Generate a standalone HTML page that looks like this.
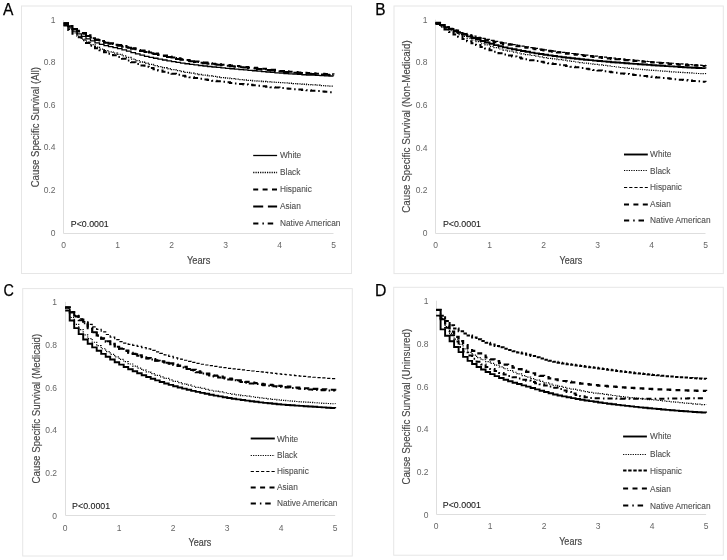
<!DOCTYPE html>
<html><head><meta charset="utf-8"><style>
html,body{margin:0;padding:0;background:#fff;width:727px;height:560px;overflow:hidden}
svg{display:block;will-change:transform}
text{font-family:"Liberation Sans", sans-serif}
</style></head><body>
<svg width="727" height="560" viewBox="0 0 727 560">
<rect width="727" height="560" fill="#fff"/>
<rect x="21.5" y="6" width="330" height="267.5" fill="none" stroke="#e6e6e6" stroke-width="1"/>
<text x="3" y="15.3" font-size="16.5" fill="#000" stroke="#000" stroke-width="0.25" textLength="10.4" lengthAdjust="spacingAndGlyphs">A</text>
<line x1="63.5" y1="20.1" x2="63.5" y2="233.5" stroke="#dedede" stroke-width="1"/>
<line x1="63.5" y1="233.5" x2="333.5" y2="233.5" stroke="#dedede" stroke-width="1"/>
<text x="55.5" y="235.53" font-size="8.5" fill="#666666" text-anchor="end">0</text>
<text x="55.5" y="192.93" font-size="8.5" fill="#666666" text-anchor="end">0.2</text>
<text x="55.5" y="150.33" font-size="8.5" fill="#666666" text-anchor="end">0.4</text>
<text x="55.5" y="107.73" font-size="8.5" fill="#666666" text-anchor="end">0.6</text>
<text x="55.5" y="65.13" font-size="8.5" fill="#666666" text-anchor="end">0.8</text>
<text x="55.5" y="22.53" font-size="8.5" fill="#666666" text-anchor="end">1</text>
<text x="63.5" y="247.93" font-size="8.5" fill="#666666" text-anchor="middle">0</text>
<text x="117.5" y="247.93" font-size="8.5" fill="#666666" text-anchor="middle">1</text>
<text x="171.5" y="247.93" font-size="8.5" fill="#666666" text-anchor="middle">2</text>
<text x="225.5" y="247.93" font-size="8.5" fill="#666666" text-anchor="middle">3</text>
<text x="279.5" y="247.93" font-size="8.5" fill="#666666" text-anchor="middle">4</text>
<text x="333.5" y="247.93" font-size="8.5" fill="#666666" text-anchor="middle">5</text>
<text x="186.9" y="263.5" font-size="10.7" fill="#474747" stroke="#4a4a4a" stroke-width="0.2" textLength="23.4" lengthAdjust="spacingAndGlyphs">Years</text>
<text transform="translate(38.9 187.3) rotate(-90)" x="0" y="0" font-size="10.5" fill="#474747" stroke="#4a4a4a" stroke-width="0.15" textLength="120.3" lengthAdjust="spacingAndGlyphs">Cause Specific Survival (All)</text>
<text x="70.8" y="226.8" font-size="9.5" fill="#1a1a1a" stroke="#1a1a1a" stroke-width="0.1" textLength="37.9" lengthAdjust="spacingAndGlyphs">P&lt;0.0001</text>
<line x1="253.2" y1="155.5" x2="277.1" y2="155.5" stroke="#000" stroke-width="1.3"/>
<text x="280" y="158.16" font-size="8.3" fill="#474747" stroke="#666" stroke-width="0.1">White</text>
<line x1="253.2" y1="172.5" x2="277.1" y2="172.5" stroke="#000" stroke-width="1.3" stroke-dasharray="1.2 1.1"/>
<text x="280" y="175.36" font-size="8.3" fill="#474747" stroke="#666" stroke-width="0.1">Black</text>
<line x1="253.2" y1="189.5" x2="277.1" y2="189.5" stroke="#000" stroke-width="2" stroke-dasharray="5 4.4"/>
<text x="280" y="192.26" font-size="8.3" fill="#474747" stroke="#666" stroke-width="0.1">Hispanic</text>
<line x1="253.2" y1="206.5" x2="277.1" y2="206.5" stroke="#000" stroke-width="2" stroke-dasharray="10 4.7"/>
<text x="280" y="209.16" font-size="8.3" fill="#474747" stroke="#666" stroke-width="0.1">Asian</text>
<line x1="253.2" y1="223.5" x2="258.4" y2="223.5" stroke="#000" stroke-width="2"/>
<line x1="262.4" y1="223.5" x2="263.9" y2="223.5" stroke="#000" stroke-width="2"/>
<line x1="267.7" y1="223.5" x2="273.2" y2="223.5" stroke="#000" stroke-width="2"/>
<text x="280" y="225.96" font-size="8.3" fill="#474747" stroke="#666" stroke-width="0.1">Native American</text>
<path d="M63.5 25.43H68V29.25H72.5V32.83H77V36.07H81.5V39.08H86V41.99H90.5V44.68H95V47.08H99.5V49.09H104V50.65H108.5V51.92H113V53.1H117.5V54.39H122V55.89H126.5V57.49H131V59.1H135.5V60.64H140V62.01H144.5V63.24H149V64.42H153.5V65.57H158V66.67H162.5V67.74H167V68.75H171.5V69.72H176V70.64H180.5V71.51H185V72.32H189.5V73.08H194V73.79H198.5V74.48H203V75.15H207.5V75.79H212V76.4H216.5V77H221V77.56H225.5V78.1H230V78.62H234.5V79.11H239V79.58H243.5V80.02H248V80.43H252.5V80.82H257V81.18H261.5V81.5H266V81.81H270.5V82.1H275V82.39H279.5V82.68H284V82.97H288.5V83.27H293V83.59H297.5V83.91H302V84.24H306.5V84.56H311V84.89H315.5V85.22H320V85.55H324.5V85.88H329V86.22H333.5V86.56" fill="none" stroke="#000" stroke-width="1.3" stroke-dasharray="1.2 1.1"/>
<path d="M63.5 25.43H68V29.7H72.5V33.66H77V37.14H81.5V40.23H86V43.11H90.5V45.76H95V48.17H99.5V50.33H104V52.2H108.5V53.83H113V55.36H117.5V56.95H122V58.68H126.5V60.47H131V62.25H135.5V63.93H140V65.41H144.5V66.75H149V68.04H153.5V69.29H158V70.49H162.5V71.64H167V72.73H171.5V73.77H176V74.76H180.5V75.68H185V76.54H189.5V77.34H194V78.08H198.5V78.78H203V79.45H207.5V80.08H212V80.69H216.5V81.27H221V81.82H225.5V82.36H230V82.88H234.5V83.39H239V83.89H243.5V84.38H248V84.87H252.5V85.35H257V85.82H261.5V86.28H266V86.72H270.5V87.15H275V87.57H279.5V87.98H284V88.38H288.5V88.79H293V89.19H297.5V89.58H302V89.97H306.5V90.35H311V90.73H315.5V91.1H320V91.46H324.5V91.82H329V92.17H333.5V92.52" fill="none" stroke="#000" stroke-width="2" stroke-dasharray="5.2 3.2 1.5 3.1"/>
<path d="M63.5 23.29H68V26.18H72.5V28.9H77V31.39H81.5V33.75H86V36.05H90.5V38.21H95V40.11H99.5V41.68H104V42.87H108.5V43.83H113V44.72H117.5V45.66H122V46.7H126.5V47.78H131V48.87H135.5V49.96H140V51.05H144.5V52.11H149V53.13H153.5V54.12H158V55.12H162.5V56.12H167V57.11H171.5V58.07H176V58.99H180.5V59.85H185V60.65H189.5V61.37H194V62.02H198.5V62.63H203V63.22H207.5V63.77H212V64.3H216.5V64.8H221V65.29H225.5V65.76H230V66.22H234.5V66.68H239V67.13H243.5V67.58H248V68.03H252.5V68.5H257V68.97H261.5V69.46H266V69.98H270.5V70.51H275V71.03H279.5V71.53H284V71.99H288.5V72.4H293V72.75H297.5V73.08H302V73.4H306.5V73.71H311V74H315.5V74.27H320V74.51H324.5V74.72H329V74.9H333.5V75.05" fill="none" stroke="#000" stroke-width="2" stroke-dasharray="10 4.7"/>
<path d="M63.5 23.29H68V25.9H72.5V28.4H77V30.75H81.5V33.05H86V35.34H90.5V37.52H95V39.46H99.5V41.04H104V42.23H108.5V43.19H113V44.08H117.5V45.02H122V46.06H126.5V47.14H131V48.23H135.5V49.32H140V50.41H144.5V51.47H149V52.49H153.5V53.48H158V54.48H162.5V55.49H167V56.47H171.5V57.43H176V58.35H180.5V59.21H185V60.01H189.5V60.73H194V61.38H198.5V62H203V62.58H207.5V63.13H212V63.66H216.5V64.16H221V64.65H225.5V65.12H230V65.58H234.5V66.04H239V66.49H243.5V66.94H248V67.39H252.5V67.86H257V68.33H261.5V68.82H266V69.34H270.5V69.87H275V70.39H279.5V70.89H284V71.35H288.5V71.76H293V72.11H297.5V72.44H302V72.77H306.5V73.07H311V73.36H315.5V73.63H320V73.87H324.5V74.08H329V74.27H333.5V74.41" fill="none" stroke="#000" stroke-width="2" stroke-dasharray="5 4.4"/>
<path d="M63.5 24.36H68V27.88H72.5V31.12H77V33.94H81.5V36.46H86V38.81H90.5V40.96H95V42.86H99.5V44.44H104V45.68H108.5V46.68H113V47.61H117.5V48.64H122V49.86H126.5V51.2H131V52.58H135.5V53.93H140V55.2H144.5V56.31H149V57.3H153.5V58.24H158V59.15H162.5V60.02H167V60.85H171.5V61.64H176V62.38H180.5V63.08H185V63.74H189.5V64.36H194V64.93H198.5V65.48H203V66H207.5V66.5H212V66.98H216.5V67.44H221V67.88H225.5V68.31H230V68.73H234.5V69.14H239V69.55H243.5V69.95H248V70.35H252.5V70.75H257V71.15H261.5V71.57H266V71.99H270.5V72.41H275V72.82H279.5V73.22H284V73.58H288.5V73.91H293V74.19H297.5V74.47H302V74.73H306.5V74.99H311V75.22H315.5V75.44H320V75.65H324.5V75.83H329V75.99H333.5V76.12" fill="none" stroke="#000" stroke-width="1.3"/>
<rect x="394" y="6" width="329.3" height="267.6" fill="none" stroke="#e6e6e6" stroke-width="1"/>
<text x="375.2" y="14.7" font-size="16.5" fill="#000" stroke="#000" stroke-width="0.25" textLength="10.3" lengthAdjust="spacingAndGlyphs">B</text>
<line x1="435.5" y1="19.7" x2="435.5" y2="233.5" stroke="#dedede" stroke-width="1"/>
<line x1="435.5" y1="233.5" x2="705.5" y2="233.5" stroke="#dedede" stroke-width="1"/>
<text x="427.5" y="236.13" font-size="8.5" fill="#666666" text-anchor="end">0</text>
<text x="427.5" y="193.43" font-size="8.5" fill="#666666" text-anchor="end">0.2</text>
<text x="427.5" y="150.73" font-size="8.5" fill="#666666" text-anchor="end">0.4</text>
<text x="427.5" y="108.03" font-size="8.5" fill="#666666" text-anchor="end">0.6</text>
<text x="427.5" y="65.33" font-size="8.5" fill="#666666" text-anchor="end">0.8</text>
<text x="427.5" y="22.63" font-size="8.5" fill="#666666" text-anchor="end">1</text>
<text x="435.5" y="248.13" font-size="8.5" fill="#666666" text-anchor="middle">0</text>
<text x="489.5" y="248.13" font-size="8.5" fill="#666666" text-anchor="middle">1</text>
<text x="543.5" y="248.13" font-size="8.5" fill="#666666" text-anchor="middle">2</text>
<text x="597.5" y="248.13" font-size="8.5" fill="#666666" text-anchor="middle">3</text>
<text x="651.5" y="248.13" font-size="8.5" fill="#666666" text-anchor="middle">4</text>
<text x="705.5" y="248.13" font-size="8.5" fill="#666666" text-anchor="middle">5</text>
<text x="559.6" y="263.7" font-size="10.7" fill="#474747" stroke="#4a4a4a" stroke-width="0.2" textLength="22.6" lengthAdjust="spacingAndGlyphs">Years</text>
<text transform="translate(409.5 212.8) rotate(-90)" x="0" y="0" font-size="10.5" fill="#474747" stroke="#4a4a4a" stroke-width="0.15" textLength="172.5" lengthAdjust="spacingAndGlyphs">Cause Specific Survival (Non-Medicaid)</text>
<text x="442.9" y="227" font-size="9.5" fill="#1a1a1a" stroke="#1a1a1a" stroke-width="0.1" textLength="38.1" lengthAdjust="spacingAndGlyphs">P&lt;0.0001</text>
<line x1="624" y1="154.5" x2="647.8" y2="154.5" stroke="#000" stroke-width="1.9"/>
<text x="650.1" y="157.16" font-size="8.3" fill="#474747" stroke="#666" stroke-width="0.1">White</text>
<line x1="624" y1="170.5" x2="647.8" y2="170.5" stroke="#000" stroke-width="1.2" stroke-dasharray="1.2 1.2"/>
<text x="650.1" y="173.76" font-size="8.3" fill="#474747" stroke="#666" stroke-width="0.1">Black</text>
<line x1="624" y1="187.5" x2="647.8" y2="187.5" stroke="#000" stroke-width="1.2" stroke-dasharray="3.2 2"/>
<text x="650.1" y="190.36" font-size="8.3" fill="#474747" stroke="#666" stroke-width="0.1">Hispanic</text>
<line x1="624" y1="204.5" x2="647.8" y2="204.5" stroke="#000" stroke-width="2.2" stroke-dasharray="5 4.4"/>
<text x="650.1" y="207.06" font-size="8.3" fill="#474747" stroke="#666" stroke-width="0.1">Asian</text>
<line x1="624" y1="220.5" x2="629.2" y2="220.5" stroke="#000" stroke-width="2"/>
<line x1="633.2" y1="220.5" x2="634.7" y2="220.5" stroke="#000" stroke-width="2"/>
<line x1="638.5" y1="220.5" x2="644" y2="220.5" stroke="#000" stroke-width="2"/>
<text x="650.1" y="223.36" font-size="8.3" fill="#474747" stroke="#666" stroke-width="0.1">Native American</text>
<path d="M435.5 23.97H440V26.24H444.5V28.43H449V30.55H453.5V32.6H458V34.57H462.5V36.46H467V38.27H471.5V40H476V41.65H480.5V43.26H485V44.82H489.5V46.31H494V47.71H498.5V49H503V50.16H507.5V51.17H512V52.12H516.5V53.02H521V53.88H525.5V54.7H530V55.48H534.5V56.22H539V56.94H543.5V57.63H548V58.29H552.5V58.94H557V59.57H561.5V60.19H566V60.79H570.5V61.4H575V62H579.5V62.59H584V63.18H588.5V63.76H593V64.33H597.5V64.89H602V65.43H606.5V65.96H611V66.48H615.5V66.99H620V67.48H624.5V67.95H629V68.4H633.5V68.84H638V69.26H642.5V69.66H647V70.04H651.5V70.41H656V70.76H660.5V71.11H665V71.45H669.5V71.78H674V72.1H678.5V72.4H683V72.69H687.5V72.97H692V73.23H696.5V73.48H701V73.71H705.5V73.93" fill="none" stroke="#000" stroke-width="1.2" stroke-dasharray="1.2 1.2"/>
<path d="M435.5 23.97H440V26.76H444.5V29.45H449V32.03H453.5V34.51H458V36.87H462.5V39.12H467V41.25H471.5V43.25H476V45.12H480.5V46.91H485V48.62H489.5V50.24H494V51.75H498.5V53.13H503V54.38H507.5V55.49H512V56.53H516.5V57.51H521V58.45H525.5V59.34H530V60.19H534.5V61H539V61.79H543.5V62.54H548V63.27H552.5V63.98H557V64.67H561.5V65.35H566V66.02H570.5V66.69H575V67.36H579.5V68.02H584V68.67H588.5V69.31H593V69.93H597.5V70.54H602V71.13H606.5V71.72H611V72.29H615.5V72.85H620V73.4H624.5V73.94H629V74.47H633.5V74.99H638V75.5H642.5V76H647V76.49H651.5V76.97H656V77.45H660.5V77.91H665V78.37H669.5V78.81H674V79.25H678.5V79.68H683V80.1H687.5V80.51H692V80.91H696.5V81.3H701V81.67H705.5V82.04" fill="none" stroke="#000" stroke-width="2" stroke-dasharray="5.2 3.2 1.5 3.1"/>
<path d="M435.5 22.9H440V24.99H444.5V27H449V28.91H453.5V30.72H458V32.44H462.5V34.04H467V35.53H471.5V36.89H476V38.13H480.5V39.27H485V40.31H489.5V41.27H494V42.18H498.5V43.04H503V43.86H507.5V44.67H512V45.46H516.5V46.23H521V46.99H525.5V47.73H530V48.44H534.5V49.15H539V49.83H543.5V50.5H548V51.15H552.5V51.79H557V52.4H561.5V53.01H566V53.59H570.5V54.16H575V54.72H579.5V55.27H584V55.8H588.5V56.33H593V56.84H597.5V57.34H602V57.84H606.5V58.32H611V58.79H615.5V59.25H620V59.7H624.5V60.13H629V60.56H633.5V60.97H638V61.37H642.5V61.76H647V62.14H651.5V62.51H656V62.87H660.5V63.22H665V63.57H669.5V63.9H674V64.23H678.5V64.55H683V64.86H687.5V65.16H692V65.44H696.5V65.72H701V65.99H705.5V66.24" fill="none" stroke="#000" stroke-width="2.2" stroke-dasharray="5 4.4"/>
<path d="M435.5 22.9H440V24.85H444.5V26.71H449V28.5H453.5V30.2H458V31.81H462.5V33.32H467V34.74H471.5V36.06H476V37.27H480.5V38.39H485V39.43H489.5V40.39H494V41.3H498.5V42.17H503V43H507.5V43.82H512V44.62H516.5V45.41H521V46.18H525.5V46.93H530V47.67H534.5V48.39H539V49.09H543.5V49.78H548V50.44H552.5V51.1H557V51.73H561.5V52.34H566V52.94H570.5V53.52H575V54.08H579.5V54.63H584V55.17H588.5V55.7H593V56.21H597.5V56.71H602V57.21H606.5V57.69H611V58.16H615.5V58.61H620V59.06H624.5V59.5H629V59.92H633.5V60.33H638V60.73H642.5V61.12H647V61.5H651.5V61.87H656V62.23H660.5V62.58H665V62.93H669.5V63.26H674V63.59H678.5V63.91H683V64.22H687.5V64.52H692V64.8H696.5V65.08H701V65.35H705.5V65.6" fill="none" stroke="#000" stroke-width="1.2" stroke-dasharray="3.2 2"/>
<path d="M435.5 22.9H440V25.03H444.5V27.1H449V29.09H453.5V31.01H458V32.86H462.5V34.63H467V36.33H471.5V37.95H476V39.49H480.5V40.99H485V42.44H489.5V43.82H494V45.12H498.5V46.32H503V47.41H507.5V48.37H512V49.29H516.5V50.16H521V51H525.5V51.81H530V52.59H534.5V53.33H539V54.04H543.5V54.72H548V55.38H552.5V56H557V56.6H561.5V57.18H566V57.73H570.5V58.25H575V58.76H579.5V59.24H584V59.71H588.5V60.16H593V60.59H597.5V61.01H602V61.41H606.5V61.8H611V62.18H615.5V62.55H620V62.9H624.5V63.25H629V63.59H633.5V63.92H638V64.25H642.5V64.57H647V64.89H651.5V65.2H656V65.5H660.5V65.8H665V66.09H669.5V66.38H674V66.66H678.5V66.93H683V67.19H687.5V67.44H692V67.69H696.5V67.93H701V68.16H705.5V68.38" fill="none" stroke="#000" stroke-width="1.9"/>
<rect x="22.7" y="288.6" width="329.6" height="267.4" fill="none" stroke="#e6e6e6" stroke-width="1"/>
<text x="3.5" y="296.4" font-size="16.5" fill="#000" stroke="#000" stroke-width="0.25" textLength="10.4" lengthAdjust="spacingAndGlyphs">C</text>
<line x1="65.5" y1="301.9" x2="65.5" y2="515.5" stroke="#dedede" stroke-width="1"/>
<line x1="65.5" y1="515.5" x2="335.2" y2="515.5" stroke="#dedede" stroke-width="1"/>
<text x="57" y="518.83" font-size="8.5" fill="#666666" text-anchor="end">0</text>
<text x="57" y="476.13" font-size="8.5" fill="#666666" text-anchor="end">0.2</text>
<text x="57" y="433.43" font-size="8.5" fill="#666666" text-anchor="end">0.4</text>
<text x="57" y="390.73" font-size="8.5" fill="#666666" text-anchor="end">0.6</text>
<text x="57" y="348.03" font-size="8.5" fill="#666666" text-anchor="end">0.8</text>
<text x="57" y="305.33" font-size="8.5" fill="#666666" text-anchor="end">1</text>
<text x="65.2" y="530.73" font-size="8.5" fill="#666666" text-anchor="middle">0</text>
<text x="119.2" y="530.73" font-size="8.5" fill="#666666" text-anchor="middle">1</text>
<text x="173.2" y="530.73" font-size="8.5" fill="#666666" text-anchor="middle">2</text>
<text x="227.2" y="530.73" font-size="8.5" fill="#666666" text-anchor="middle">3</text>
<text x="281.2" y="530.73" font-size="8.5" fill="#666666" text-anchor="middle">4</text>
<text x="335.2" y="530.73" font-size="8.5" fill="#666666" text-anchor="middle">5</text>
<text x="188.5" y="546.2" font-size="10.7" fill="#474747" stroke="#4a4a4a" stroke-width="0.2" textLength="22.7" lengthAdjust="spacingAndGlyphs">Years</text>
<text transform="translate(39.5 483.5) rotate(-90)" x="0" y="0" font-size="10.5" fill="#474747" stroke="#4a4a4a" stroke-width="0.15" textLength="149.7" lengthAdjust="spacingAndGlyphs">Cause Specific Survival (Medicaid)</text>
<text x="72.1" y="509.2" font-size="9.5" fill="#1a1a1a" stroke="#1a1a1a" stroke-width="0.1" textLength="38.1" lengthAdjust="spacingAndGlyphs">P&lt;0.0001</text>
<line x1="250.7" y1="438.5" x2="274.8" y2="438.5" stroke="#000" stroke-width="1.9"/>
<text x="277" y="441.76" font-size="8.3" fill="#474747" stroke="#666" stroke-width="0.1">White</text>
<line x1="250.7" y1="455.5" x2="274.8" y2="455.5" stroke="#000" stroke-width="1.2" stroke-dasharray="1.2 1.2"/>
<text x="277" y="457.96" font-size="8.3" fill="#474747" stroke="#666" stroke-width="0.1">Black</text>
<line x1="250.7" y1="471.5" x2="274.8" y2="471.5" stroke="#000" stroke-width="1.2" stroke-dasharray="3.2 2"/>
<text x="277" y="473.86" font-size="8.3" fill="#474747" stroke="#666" stroke-width="0.1">Hispanic</text>
<line x1="250.7" y1="487.5" x2="274.8" y2="487.5" stroke="#000" stroke-width="2.2" stroke-dasharray="5 4.4"/>
<text x="277" y="490.26" font-size="8.3" fill="#474747" stroke="#666" stroke-width="0.1">Asian</text>
<line x1="250.7" y1="503.5" x2="255.9" y2="503.5" stroke="#000" stroke-width="2"/>
<line x1="259.9" y1="503.5" x2="261.4" y2="503.5" stroke="#000" stroke-width="2"/>
<line x1="265.2" y1="503.5" x2="270.7" y2="503.5" stroke="#000" stroke-width="2"/>
<text x="277" y="506.06" font-size="8.3" fill="#474747" stroke="#666" stroke-width="0.1">Native American</text>
<path d="M65.2 308.52H69.7V317.52H74.2V324.29H78.7V329.65H83.2V334.8H87.7V338.61H92.2V342.25H96.7V345.68H101.2V348.77H105.7V351.65H110.2V354.33H114.7V356.88H119.2V359.33H123.7V361.71H128.2V364H132.7V366.16H137.2V368.2H141.7V370.12H146.2V371.93H150.7V373.65H155.2V375.32H159.7V376.93H164.2V378.47H168.7V379.94H173.2V381.32H177.7V382.64H182.2V383.9H186.7V385.11H191.2V386.26H195.7V387.35H200.2V388.37H204.7V389.33H209.2V390.25H213.7V391.12H218.2V391.95H222.7V392.74H227.2V393.49H231.7V394.21H236.2V394.89H240.7V395.54H245.2V396.17H249.7V396.76H254.2V397.33H258.7V397.89H263.2V398.42H267.7V398.94H272.2V399.43H276.7V399.89H281.2V400.32H285.7V400.73H290.2V401.12H294.7V401.48H299.2V401.83H303.7V402.15H308.2V402.46H312.7V402.75H317.2V403.02H321.7V403.28H326.2V403.52H330.7V403.75H335.2V403.95" fill="none" stroke="#000" stroke-width="1.2" stroke-dasharray="1.2 1.2"/>
<path d="M65.2 307.45H69.7V312.57H74.2V316.86H78.7V320.13H83.2V323.24H87.7V328.19H92.2V332.23H96.7V335.7H101.2V338.79H105.7V341.66H110.2V344.35H114.7V346.82H119.2V349.02H123.7V350.97H128.2V352.73H132.7V354.34H137.2V355.82H141.7V357.2H146.2V358.46H150.7V359.61H155.2V360.69H159.7V361.73H164.2V362.76H168.7V363.81H173.2V364.91H177.7V366.09H182.2V367.41H186.7V368.95H191.2V370.58H195.7V372.13H200.2V373.42H204.7V374.51H209.2V375.57H213.7V376.6H218.2V377.58H222.7V378.53H227.2V379.44H231.7V380.31H236.2V381.14H240.7V381.93H245.2V382.68H249.7V383.38H254.2V384.04H258.7V384.65H263.2V385.22H267.7V385.73H272.2V386.2H276.7V386.66H281.2V387.11H285.7V387.54H290.2V387.96H294.7V388.36H299.2V388.74H303.7V389.1H308.2V389.43H312.7V389.73H317.2V390H321.7V390.24H326.2V390.44H330.7V390.6H335.2V390.72" fill="none" stroke="#000" stroke-width="2" stroke-dasharray="5.2 3.2 1.5 3.1"/>
<path d="M65.2 307.45H69.7V312.32H74.2V316.46H78.7V319.7H83.2V322.81H87.7V327.76H92.2V331.81H96.7V335.28H101.2V338.36H105.7V341.24H110.2V343.92H114.7V346.39H119.2V348.6H123.7V350.54H128.2V352.3H132.7V353.91H137.2V355.39H141.7V356.77H146.2V358.04H150.7V359.2H155.2V360.3H159.7V361.35H164.2V362.38H168.7V363.43H173.2V364.53H177.7V365.69H182.2V366.96H186.7V368.4H191.2V369.91H195.7V371.34H200.2V372.57H204.7V373.63H209.2V374.67H213.7V375.68H218.2V376.66H222.7V377.6H227.2V378.51H231.7V379.39H236.2V380.23H240.7V381.03H245.2V381.78H249.7V382.5H254.2V383.17H258.7V383.79H263.2V384.36H267.7V384.88H272.2V385.35H276.7V385.81H281.2V386.25H285.7V386.69H290.2V387.1H294.7V387.51H299.2V387.89H303.7V388.24H308.2V388.57H312.7V388.88H317.2V389.15H321.7V389.39H326.2V389.58H330.7V389.74H335.2V389.86" fill="none" stroke="#000" stroke-width="2.2" stroke-dasharray="5 4.4"/>
<path d="M65.2 307.45H69.7V311.67H74.2V315.46H78.7V318.77H83.2V321.69H87.7V324.42H92.2V326.97H96.7V329.41H101.2V331.86H105.7V334.48H110.2V337.15H114.7V339.61H119.2V341.64H123.7V343.12H128.2V344.29H132.7V345.32H137.2V346.36H141.7V347.57H146.2V348.92H150.7V350.37H155.2V351.87H159.7V353.39H164.2V354.9H168.7V356.38H173.2V357.79H177.7V359.09H182.2V360.27H186.7V361.39H191.2V362.44H195.7V363.4H200.2V364.24H204.7V365H209.2V365.71H213.7V366.4H218.2V367.06H222.7V367.68H227.2V368.29H231.7V368.87H236.2V369.42H240.7V369.96H245.2V370.48H249.7V370.99H254.2V371.49H258.7V371.97H263.2V372.45H267.7V372.93H272.2V373.4H276.7V373.86H281.2V374.32H285.7V374.76H290.2V375.2H294.7V375.63H299.2V376.04H303.7V376.45H308.2V376.85H312.7V377.23H317.2V377.6H321.7V377.96H326.2V378.31H330.7V378.65H335.2V378.97" fill="none" stroke="#000" stroke-width="1.2" stroke-dasharray="3.2 2"/>
<path d="M65.2 310.44H69.7V320.51H74.2V328.13H78.7V334.14H83.2V339.49H87.7V343.73H92.2V347.38H96.7V350.8H101.2V353.89H105.7V356.77H110.2V359.53H114.7V362.18H119.2V364.67H123.7V367H128.2V369.19H132.7V371.29H137.2V373.31H141.7V375.25H146.2V377.05H150.7V378.75H155.2V380.4H159.7V381.97H164.2V383.48H168.7V384.9H173.2V386.23H177.7V387.48H182.2V388.66H186.7V389.78H191.2V390.85H195.7V391.87H200.2V392.85H204.7V393.8H209.2V394.71H213.7V395.59H218.2V396.42H222.7V397.22H227.2V397.97H231.7V398.69H236.2V399.38H240.7V400.04H245.2V400.67H249.7V401.26H254.2V401.82H258.7V402.34H263.2V402.85H267.7V403.32H272.2V403.78H276.7V404.2H281.2V404.59H285.7V404.96H290.2V405.29H294.7V405.61H299.2V405.92H303.7V406.22H308.2V406.51H312.7V406.81H317.2V407.11H321.7V407.39H326.2V407.68H330.7V407.95H335.2V408.22" fill="none" stroke="#000" stroke-width="1.9"/>
<rect x="393.7" y="287.3" width="329.6" height="267.9" fill="none" stroke="#e6e6e6" stroke-width="1"/>
<text x="375" y="296.1" font-size="16.5" fill="#000" stroke="#000" stroke-width="0.25" textLength="11.4" lengthAdjust="spacingAndGlyphs">D</text>
<line x1="436.5" y1="300.7" x2="436.5" y2="514.5" stroke="#dedede" stroke-width="1"/>
<line x1="436.5" y1="514.5" x2="706.1" y2="514.5" stroke="#dedede" stroke-width="1"/>
<text x="428.5" y="517.83" font-size="8.5" fill="#666666" text-anchor="end">0</text>
<text x="428.5" y="475.13" font-size="8.5" fill="#666666" text-anchor="end">0.2</text>
<text x="428.5" y="432.43" font-size="8.5" fill="#666666" text-anchor="end">0.4</text>
<text x="428.5" y="389.73" font-size="8.5" fill="#666666" text-anchor="end">0.6</text>
<text x="428.5" y="347.03" font-size="8.5" fill="#666666" text-anchor="end">0.8</text>
<text x="428.5" y="304.33" font-size="8.5" fill="#666666" text-anchor="end">1</text>
<text x="436.1" y="528.93" font-size="8.5" fill="#666666" text-anchor="middle">0</text>
<text x="490.1" y="528.93" font-size="8.5" fill="#666666" text-anchor="middle">1</text>
<text x="544.1" y="528.93" font-size="8.5" fill="#666666" text-anchor="middle">2</text>
<text x="598.1" y="528.93" font-size="8.5" fill="#666666" text-anchor="middle">3</text>
<text x="652.1" y="528.93" font-size="8.5" fill="#666666" text-anchor="middle">4</text>
<text x="706.1" y="528.93" font-size="8.5" fill="#666666" text-anchor="middle">5</text>
<text x="559.2" y="544.8" font-size="10.7" fill="#474747" stroke="#4a4a4a" stroke-width="0.2" textLength="22.7" lengthAdjust="spacingAndGlyphs">Years</text>
<text transform="translate(410.3 484.6) rotate(-90)" x="0" y="0" font-size="10.5" fill="#474747" stroke="#4a4a4a" stroke-width="0.15" textLength="155.8" lengthAdjust="spacingAndGlyphs">Cause Specific Survival (Uninsured)</text>
<text x="442.8" y="507.8" font-size="9.5" fill="#1a1a1a" stroke="#1a1a1a" stroke-width="0.1" textLength="38.1" lengthAdjust="spacingAndGlyphs">P&lt;0.0001</text>
<line x1="623.1" y1="436.5" x2="646.9" y2="436.5" stroke="#000" stroke-width="1.9"/>
<text x="650.1" y="439.46" font-size="8.3" fill="#474747" stroke="#666" stroke-width="0.1">White</text>
<line x1="623.1" y1="454.5" x2="646.9" y2="454.5" stroke="#000" stroke-width="1.2" stroke-dasharray="1.2 1.2"/>
<text x="650.1" y="457.16" font-size="8.3" fill="#474747" stroke="#666" stroke-width="0.1">Black</text>
<line x1="623.1" y1="470.5" x2="646.9" y2="470.5" stroke="#000" stroke-width="2" stroke-dasharray="3.4 1.7"/>
<text x="650.1" y="473.76" font-size="8.3" fill="#474747" stroke="#666" stroke-width="0.1">Hispanic</text>
<line x1="623.1" y1="488.5" x2="646.9" y2="488.5" stroke="#000" stroke-width="2.2" stroke-dasharray="5 4.4"/>
<text x="650.1" y="491.66" font-size="8.3" fill="#474747" stroke="#666" stroke-width="0.1">Asian</text>
<line x1="623.1" y1="505.5" x2="628.3" y2="505.5" stroke="#000" stroke-width="2"/>
<line x1="632.3" y1="505.5" x2="633.8" y2="505.5" stroke="#000" stroke-width="2"/>
<line x1="637.6" y1="505.5" x2="643.1" y2="505.5" stroke="#000" stroke-width="2"/>
<text x="650.1" y="508.56" font-size="8.3" fill="#474747" stroke="#666" stroke-width="0.1">Native American</text>
<path d="M436.1 309.88H440.6V318.61H445.1V326.51H449.6V333.41H454.1V339.2H458.6V344.33H463.1V348.79H467.6V352.4H472.1V355.2H476.6V357.62H481.1V359.73H485.6V361.64H490.1V363.42H494.6V365.15H499.1V366.91H503.6V368.73H508.1V370.51H512.6V372.24H517.1V373.92H521.6V375.54H526.1V377.1H530.6V378.59H535.1V380.04H539.6V381.45H544.1V382.8H548.6V384.07H553.1V385.24H557.6V386.3H562.1V387.3H566.6V388.26H571.1V389.17H575.6V390.04H580.1V390.86H584.6V391.64H589.1V392.38H593.6V393.07H598.1V393.72H602.6V394.35H607.1V394.94H611.6V395.51H616.1V396.06H620.6V396.59H625.1V397.11H629.6V397.61H634.1V398.1H638.6V398.58H643.1V399.06H647.6V399.53H652.1V400H656.6V400.46H661.1V400.91H665.6V401.35H670.1V401.78H674.6V402.21H679.1V402.62H683.6V403.03H688.1V403.42H692.6V403.81H697.1V404.18H701.6V404.54H706.1V404.89" fill="none" stroke="#000" stroke-width="1.2" stroke-dasharray="1.2 1.2"/>
<path d="M436.1 309.88H440.6V319.32H445.1V327.85H449.6V335.29H454.1V341.48H458.6V346.89H463.1V351.6H467.6V355.53H472.1V358.78H476.6V361.74H481.1V364.44H485.6V366.89H490.1V369.11H494.6V371.11H499.1V372.92H503.6V374.53H508.1V375.97H512.6V377.27H517.1V378.48H521.6V379.63H526.1V380.78H530.6V381.98H535.1V383.17H539.6V384.33H544.1V385.47H548.6V386.61H553.1V387.77H557.6V388.99H562.1V390.4H566.6V391.94H571.1V393.49H575.6V394.98H580.1V396.3H584.6V397.35H589.1V398.04H593.6V398.29H598.1V398.36H602.6V398.43H607.1V398.49H611.6V398.54H616.1V398.59H620.6V398.63H625.1V398.66H629.6V398.68H634.1V398.69H638.6V398.7H643.1V398.7H647.6V398.69H652.1V398.68H656.6V398.66H661.1V398.64H665.6V398.61H670.1V398.57H674.6V398.53H679.1V398.48H683.6V398.43H688.1V398.37H692.6V398.3H697.1V398.23H701.6V398.15H706.1V398.06" fill="none" stroke="#000" stroke-width="2" stroke-dasharray="5.2 3.2 1.5 3.1"/>
<path d="M436.1 309.88H440.6V318.02H445.1V325.35H449.6V331.65H454.1V336.79H458.6V341.19H463.1V344.98H467.6V348.17H472.1V350.87H476.6V353.29H481.1V355.48H485.6V357.5H490.1V359.37H494.6V361.15H499.1V362.88H503.6V364.57H508.1V366.17H512.6V367.69H517.1V369.15H521.6V370.55H526.1V371.91H530.6V373.23H535.1V374.57H539.6V375.89H544.1V377.16H548.6V378.32H553.1V379.34H557.6V380.19H562.1V380.98H566.6V381.72H571.1V382.41H575.6V383.04H580.1V383.63H584.6V384.17H589.1V384.67H593.6V385.12H598.1V385.54H602.6V385.94H607.1V386.31H611.6V386.67H616.1V387H620.6V387.32H625.1V387.61H629.6V387.89H634.1V388.15H638.6V388.39H643.1V388.62H647.6V388.85H652.1V389.07H656.6V389.29H661.1V389.49H665.6V389.69H670.1V389.89H674.6V390.07H679.1V390.24H683.6V390.4H688.1V390.55H692.6V390.69H697.1V390.81H701.6V390.92H706.1V391.01" fill="none" stroke="#000" stroke-width="2.2" stroke-dasharray="5 4.4"/>
<path d="M436.1 309.88H440.6V315.73H445.1V320.93H449.6V325.27H454.1V328.61H458.6V331.26H463.1V333.5H467.6V335.53H472.1V337.49H476.6V339.35H481.1V341.12H485.6V342.79H490.1V344.39H494.6V345.91H499.1V347.36H503.6V348.74H508.1V350.03H512.6V351.26H517.1V352.44H521.6V353.59H526.1V354.75H530.6V355.93H535.1V357.16H539.6V358.42H544.1V359.65H548.6V360.81H553.1V361.83H557.6V362.69H562.1V363.46H566.6V364.18H571.1V364.84H575.6V365.47H580.1V366.07H584.6V366.66H589.1V367.25H593.6V367.86H598.1V368.48H602.6V369.1H607.1V369.72H611.6V370.33H616.1V370.93H620.6V371.52H625.1V372.08H629.6V372.62H634.1V373.13H638.6V373.61H643.1V374.06H647.6V374.5H652.1V374.93H656.6V375.35H661.1V375.76H665.6V376.16H670.1V376.54H674.6V376.91H679.1V377.27H683.6V377.61H688.1V377.94H692.6V378.25H697.1V378.54H701.6V378.81H706.1V379.05" fill="none" stroke="#000" stroke-width="2" stroke-dasharray="3.4 1.7"/>
<path d="M436.1 315.65H440.6V329.34H445.1V335.69H449.6V341.27H454.1V347.05H458.6V352.17H463.1V356.89H467.6V360.87H472.1V364.06H476.6V366.95H481.1V369.57H485.6V371.96H490.1V374.15H494.6V376.16H499.1V378.02H503.6V379.74H508.1V381.3H512.6V382.73H517.1V384.07H521.6V385.36H526.1V386.65H530.6V387.97H535.1V389.33H539.6V390.7H544.1V392.03H548.6V393.29H553.1V394.44H557.6V395.45H562.1V396.4H566.6V397.29H571.1V398.14H575.6V398.95H580.1V399.72H584.6V400.45H589.1V401.15H593.6V401.82H598.1V402.47H602.6V403.09H607.1V403.7H611.6V404.28H616.1V404.84H620.6V405.39H625.1V405.91H629.6V406.41H634.1V406.89H638.6V407.34H643.1V407.78H647.6V408.22H652.1V408.64H656.6V409.06H661.1V409.46H665.6V409.86H670.1V410.24H674.6V410.61H679.1V410.97H683.6V411.31H688.1V411.64H692.6V411.95H697.1V412.25H701.6V412.53H706.1V412.79" fill="none" stroke="#000" stroke-width="1.9"/>
</svg>
</body></html>
